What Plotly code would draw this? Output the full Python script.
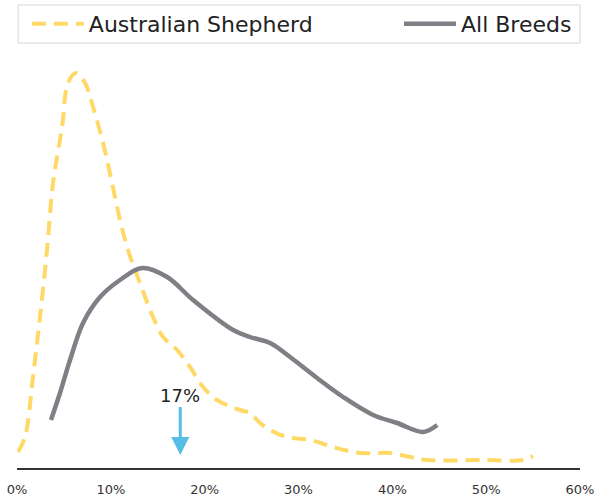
import plotly.graph_objects as go

# Australian Shepherd density curve (x in %, relative density)
aus_x = [0.1, 0.85, 1.7, 2.45, 3.2, 3.84, 4.8, 5.44, 6.29, 7.25, 8.1, 9.17, 10.13, 10.98, 11.83,
         13.1, 14.5, 15.57, 17.06, 18.44, 19.83, 21.3, 23.77, 24.84, 25.9, 26.97, 28.78, 31.24,
         33.69, 36.57, 39.77, 41.9, 43.71, 49.68, 53.94, 55.0]
aus_y = [1.6, 3.1, 9.1, 15.1, 21.8, 28.5, 34.1, 38.5, 39.5, 38.5, 36.1, 32.5, 28.5, 24.8, 21.8,
         18.5, 15.1, 13.1, 11.8, 10.1, 8.1, 6.8, 5.8, 5.5, 4.5, 3.8, 3.1, 2.8,
         2.1, 1.5, 1.5, 1.1, 0.8, 0.8, 0.8, 1.2]

# All breeds density curve
all_x = [3.62, 4.58, 5.65, 7.04, 8.85, 10.98, 13.33, 16.0, 18.76, 23.03, 24.84, 26.97, 29.1,
         31.98, 34.75, 37.95, 40.51, 43.28, 44.78]
all_y = [4.8, 7.5, 10.8, 14.5, 17.1, 18.8, 20.0, 19.1, 16.8, 13.8, 13.1, 12.5, 11.1,
         9.0, 7.1, 5.3, 4.5, 3.6, 4.3]

marker_value = 17.4
marker_label = "17%"
tick_vals = [0, 10, 20, 30, 40, 50, 60]
tick_text = ["0%", "10%", "20%", "30%", "40%", "50%", "60%"]

YELLOW = "#FFD966"
GREY = "#7F8085"
BLUE = "#55BDE6"
FONT = "DejaVu Sans"

fig = go.Figure()
fig.add_trace(go.Scatter(
    x=aus_x, y=aus_y, mode="lines", name="Australian Shepherd",
    line=dict(color=YELLOW, width=4, dash="14px,8px", shape="spline", smoothing=1),
    legend="legend",
))
fig.add_trace(go.Scatter(
    x=all_x, y=all_y, mode="lines", name="All Breeds",
    line=dict(color=GREY, width=4.5, shape="spline", smoothing=1),
    legend="legend2",
))

fig.add_annotation(
    x=marker_value, y=1.3, xref="x", yref="y",
    text=marker_label, showarrow=True, ax=0, ay=-60,
    arrowhead=2, arrowsize=1.2, arrowwidth=3, arrowcolor=BLUE,
    font=dict(family=FONT, size=18, color="#222222"),
)

# legend frame
fig.add_shape(type="rect", xref="paper", yref="paper",
              x0=0.002, x1=1.0, y0=1.029, y1=1.121,
              line=dict(color="#D5D5D5", width=1), fillcolor="rgba(0,0,0,0)")

fig.update_layout(
    width=597, height=497,
    template="none",
    paper_bgcolor="white", plot_bgcolor="white",
    margin=dict(l=17, r=17, t=55, b=29, autoexpand=False),
    font=dict(family=FONT, color="#333333"),
    legend=dict(orientation="h", x=0.0175, xanchor="left", y=1.075, yanchor="middle",
                itemwidth=52,
                font=dict(family=FONT, size=22, color="#222222"),
                bgcolor="rgba(0,0,0,0)", borderwidth=0),
    legend2=dict(orientation="h", x=0.6785, xanchor="left", y=1.075, yanchor="middle",
                 itemwidth=52,
                 font=dict(family=FONT, size=22, color="#222222"),
                 bgcolor="rgba(0,0,0,0)", borderwidth=0),
    showlegend=True,
    xaxis=dict(range=[0, 60], tickvals=tick_vals, ticktext=tick_text,
               showgrid=False, zeroline=False, showline=True, linecolor="#333333",
               linewidth=2, ticks="", ticklabelstandoff=8, automargin=False,
               tickfont=dict(family=FONT, size=13, color="#333333")),
    yaxis=dict(range=[0, 41.3], visible=False, showgrid=False, zeroline=False,
               automargin=False),
)

fig.write_html("out.html", config={"displayModeBar": False},
               post_script="document.body.style.margin='0';")
